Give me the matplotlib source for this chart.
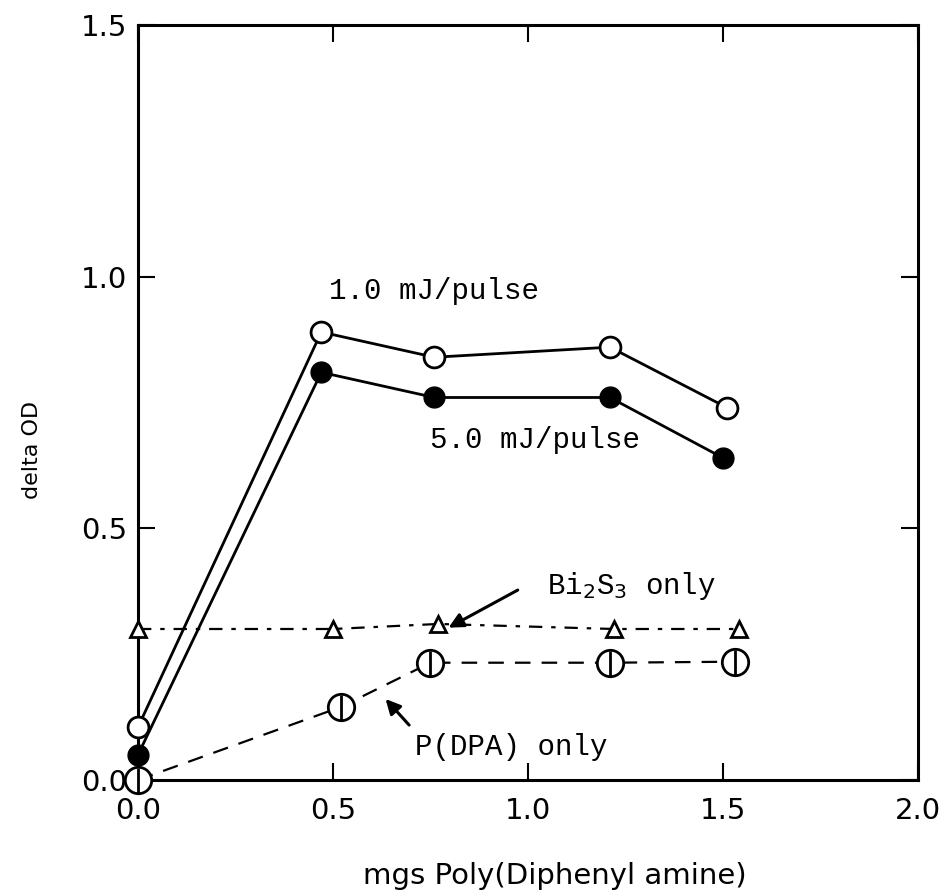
import matplotlib
matplotlib.use("Agg")
import matplotlib.pyplot as plt

# data
x_1mj = [0.0, 0.47, 0.76, 1.21, 1.51]
y_1mj = [0.105, 0.89, 0.84, 0.86, 0.74]

x_5mj = [0.0, 0.47, 0.76, 1.21, 1.50]
y_5mj = [0.05, 0.81, 0.76, 0.76, 0.64]

x_bi = [0.0, 0.50, 0.77, 1.22, 1.54]
y_bi = [0.30, 0.30, 0.31, 0.30, 0.30]

x_pdpa = [0.0, 0.52, 0.75, 1.21, 1.53]
y_pdpa = [0.0, 0.145, 0.233, 0.233, 0.235]

xticks = [0.0, 0.5, 1.0, 1.5, 2.0]
yticks = [0.0, 0.5, 1.0, 1.5]

fig = plt.figure(figsize=(9.42, 8.96), dpi=100)
ax = fig.add_axes([0.1465, 0.1295, 0.828, 0.8425])

ax.plot(x_1mj, y_1mj, '-', color='black', lw=2, marker='o', ms=15,
        mfc='white', mec='black', mew=2, clip_on=False, zorder=4)
ax.plot(x_5mj, y_5mj, '-', color='black', lw=2, marker='o', ms=15,
        mfc='black', mec='black', clip_on=False, zorder=4)
ax.plot(x_bi, y_bi, color='black', lw=1.6, dashes=[6, 4, 2, 4], marker='^', ms=11,
        mfc='white', mec='black', mew=2, clip_on=False, zorder=3)
ax.plot(x_pdpa, y_pdpa, color='black', lw=1.6, dashes=[7, 5], marker='o', ms=19,
        mfc='white', mec='black', mew=2, clip_on=False, zorder=3)
ax.plot(x_pdpa, y_pdpa, ls='none', marker='|', ms=18, mec='black', mew=2,
        clip_on=False, zorder=5)

mono = 'Liberation Mono'
ax.text(0.49, 0.955, '1.0 mJ/pulse', fontsize=21, family=mono)
ax.text(0.75, 0.66, '5.0 mJ/pulse', fontsize=21, family=mono)
ax.text(1.05, 0.37, r'Bi$_2$S$_3$ only', fontsize=21, family=mono)
ax.text(0.71, 0.05, 'P(DPA) only', fontsize=21, family=mono)
ax.annotate('', xy=(0.79, 0.30), xytext=(0.98, 0.38),
            arrowprops=dict(arrowstyle='-|>', color='black', lw=2.2, mutation_scale=22))
ax.annotate('', xy=(0.63, 0.165), xytext=(0.70, 0.105),
            arrowprops=dict(arrowstyle='-|>', color='black', lw=2.2, mutation_scale=22))

ax.set_xlim(0, 2.0)
ax.set_ylim(0, 1.5)
ax.set_xticks(xticks)
ax.set_yticks(yticks)
ax.set_xticklabels(['0.0', '0.5', '1.0', '1.5', '2.0'])
ax.set_yticklabels(['0.0', '0.5', '1.0', '1.5'])
ax.tick_params(direction='in', length=12, width=1.5, labelsize=21,
               top=True, right=True, pad=8)
ax.tick_params(axis='x', pad=12)
for s in ax.spines.values():
    s.set_linewidth(2.2)

ax.set_xlabel('mgs Poly(Diphenyl amine)', fontsize=21)
ax.set_ylabel('delta OD', fontsize=16)
ax.xaxis.set_label_coords(0.535, -0.109)
ax.yaxis.set_label_coords(-0.123, 0.437)

fig.savefig('out.png', dpi=100)
